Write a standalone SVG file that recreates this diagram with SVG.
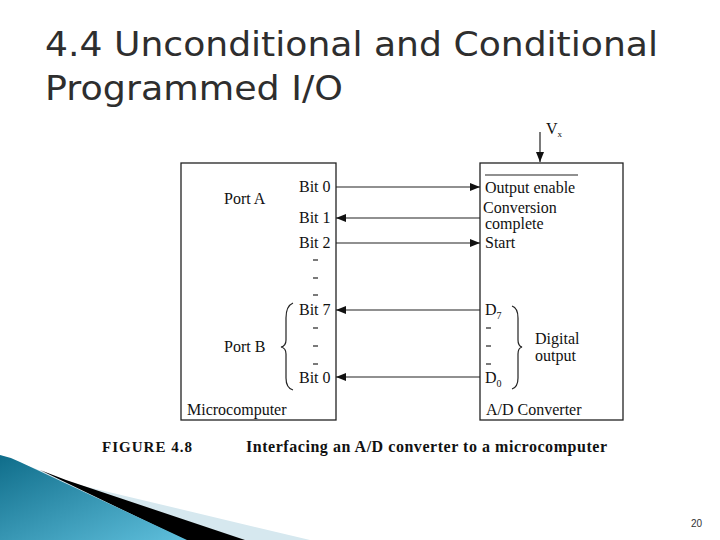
<svg xmlns="http://www.w3.org/2000/svg" width="720" height="540" viewBox="0 0 720 540">
<defs>
<style>
.t{font-family:"Liberation Serif",serif;font-size:16px;fill:#111}
.b{stroke:#222;stroke-width:1.3;fill:none}
.w{stroke:#222;stroke-width:1.2;fill:none}
.title{font-family:"DejaVu Sans",sans-serif;font-size:33px;fill:#2e2e2e}
</style>
<marker id="ah" markerWidth="10" markerHeight="8" refX="10" refY="4" orient="auto" markerUnits="userSpaceOnUse"><path d="M0,0L10,4L0,8z" fill="#111"/></marker>
<linearGradient id="g1" x1="0" y1="0" x2="1" y2="1"><stop offset="0" stop-color="#0f6d8a"/><stop offset="1" stop-color="#5fbfdc"/></linearGradient>
</defs>
<rect width="720" height="540" fill="#fff"/>
<text class="title" x="45" y="56" textLength="613" lengthAdjust="spacingAndGlyphs">4.4 Unconditional and Conditional</text>
<text class="title" x="45" y="100" textLength="298" lengthAdjust="spacingAndGlyphs">Programmed I/O</text>
<g id="micro">
<rect class="b" x="181" y="163" width="155" height="257"/>
<text class="t" x="224" y="204">Port A</text>
<text class="t" x="224" y="352">Port B</text>
<text class="t" x="187" y="415">Microcomputer</text>
<text class="t" x="299" y="192">Bit 0</text>
<text class="t" x="299" y="223">Bit 1</text>
<text class="t" x="299" y="248">Bit 2</text>
<text class="t" x="299" y="315">Bit 7</text>
<text class="t" x="299" y="383">Bit 0</text>
<g stroke="#222" stroke-width="1.2">
<line x1="313" y1="260" x2="318" y2="260"/><line x1="313" y1="278" x2="318" y2="278"/><line x1="313" y1="295" x2="318" y2="295"/>
<line x1="313" y1="328" x2="318" y2="328"/><line x1="313" y1="346" x2="318" y2="346"/><line x1="313" y1="364" x2="318" y2="364"/>
<line x1="486" y1="328" x2="491" y2="328"/><line x1="486" y1="346" x2="491" y2="346"/><line x1="486" y1="364" x2="491" y2="364"/>
</g>
<path class="w" d="M293,303 Q286,306 286,318 L286,340 Q286,346 281,347 Q286,348 286,354 L286,378 Q286,388 293,390"/>
</g>
<g id="adc">
<rect class="b" x="480" y="163" width="143" height="257"/>
<line x1="485" y1="175" x2="578" y2="175" stroke="#222" stroke-width="1.2"/>
<text class="t" x="485" y="193">Output enable</text>
<text class="t" x="483" y="213">Conversion</text>
<text class="t" x="485" y="229">complete</text>
<text class="t" x="485" y="248">Start</text>
<text class="t" x="485" y="315">D<tspan font-size="10" dy="4">7</tspan></text>
<text class="t" x="485" y="383">D<tspan font-size="10" dy="4">0</tspan></text>
<path class="w" d="M512,306 Q518,308 518,318 L518,340 Q518,346 522,347 Q518,348 518,354 L518,378 Q518,387 512,389"/>
<text class="t" x="535" y="344">Digital</text>
<text class="t" x="535" y="361">output</text>
<text class="t" x="486" y="415">A/D Converter</text>
<text class="t" x="546" y="134">V<tspan font-size="9" dy="3">x</tspan></text>
</g>
<g id="connectors" stroke="#222" stroke-width="1.2" marker-end="url(#ah)">
<line x1="540" y1="132" x2="540" y2="162"/>
<line x1="336" y1="187" x2="480" y2="187"/>
<line x1="480" y1="218" x2="336" y2="218"/>
<line x1="336" y1="243" x2="480" y2="243"/>
<line x1="480" y1="310" x2="336" y2="310"/>
<line x1="480" y1="377" x2="336" y2="377"/>
</g>
<text x="102" y="452" font-family="Liberation Serif,serif" font-size="15" font-weight="bold" fill="#111" textLength="90">FIGURE 4.8</text>
<text x="246" y="452" font-family="Liberation Serif,serif" font-size="16" font-weight="bold" fill="#111" textLength="361">Interfacing an A/D converter to a microcomputer</text>
<g id="decor">
<path d="M0,455 L75,484 L310,540 L0,540z" fill="#d6e8ef"/>
<path d="M40,470 L66,480 L245,540 L185,540z" fill="#000"/>
<path d="M0,455 Q10,457 20,462 L187,540 L0,540z" fill="url(#g1)"/>
</g>
<text x="691" y="527" font-family="Liberation Sans,sans-serif" font-size="10" fill="#333">20</text>
</svg>
